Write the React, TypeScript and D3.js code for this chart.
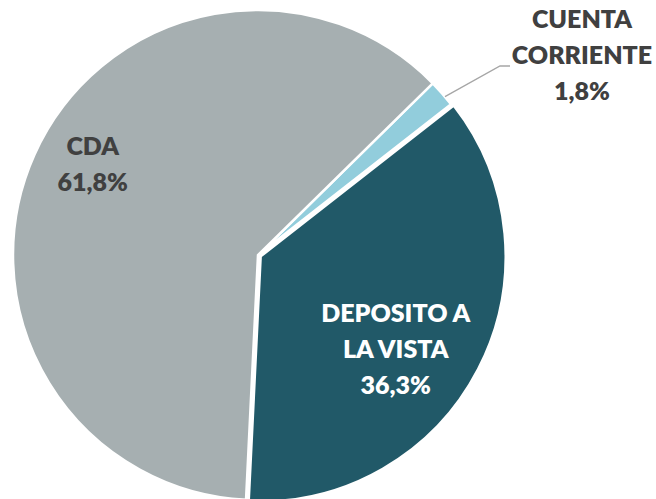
import { useEffect, useRef } from 'react';
import * as d3 from 'd3';

const categories = ['CUENTA CORRIENTE', 'DEPOSITO A LA VISTA', 'CDA'];
const values = [1.8, 36.3, 61.8];
const labelLines = [['CUENTA', 'CORRIENTE', '1,8%'], ['DEPOSITO A', 'LA VISTA', '36,3%'], ['CDA', '61,8%']];
const colors = ['#92CDDC', '#215968', '#A6AFB1'];

export default function App() {
  const svgRef = useRef<SVGSVGElement>(null);
  const width = 656;
  const height = 499;

  useEffect(() => {
    if (!svgRef.current) return;
    const svg = d3.select(svgRef.current);
    svg.selectAll('*').remove();

    const cx = 258, cy = 255, r = 245;
    const start = (45.5 * Math.PI) / 180;
    const data = categories.map((c, i) => ({ name: c, value: values[i], lines: labelLines[i], color: colors[i] }));

    const pie = d3.pie<any>().sort(null).value((d) => d.value).startAngle(start).endAngle(start + 2 * Math.PI);
    const arcs = pie(data);
    const arc = d3.arc<any>().innerRadius(0).outerRadius(r);

    const g = svg.append('g').attr('transform', `translate(${cx},${cy})`);
    const explode = [0, 3, 0];

    g.selectAll('path')
      .data(arcs)
      .join('path')
      .attr('d', arc)
      .attr('fill', (d) => d.data.color)
      .attr('stroke', '#fff')
      .attr('stroke-width', 2.5)
      .attr('stroke-linejoin', 'miter')
      .attr('transform', (d, i) => {
        const a = (d.startAngle + d.endAngle) / 2;
        return `translate(${Math.sin(a) * explode[i]},${-Math.cos(a) * explode[i]})`;
      });

    const font = 'Lato, "Open Sans", sans-serif';
    const fontSize = 25;
    const lineH = 36;
    const capH = 18;

    const polar = (a: number, rr: number) => [Math.sin(a) * rr, -Math.cos(a) * rr];
    const deg = Math.PI / 180;

    const drawLabel = (lines: string[], x: number, y: number, fill: string) => {
      const t = g.append('text')
        .attr('text-anchor', 'middle')
        .attr('font-family', font)
        .attr('font-weight', 800)
        .attr('font-size', fontSize)
        .attr('fill', fill);
      const y0 = y - ((lines.length - 1) * lineH) / 2 + capH / 2;
      lines.forEach((l, i) => {
        t.append('tspan').attr('x', x).attr('y', y0 + i * lineH).text(l);
      });
    };

    // CDA label inside the slice
    const cda = arcs[2];
    const pCda = polar((cda.startAngle + cda.endAngle) / 2 + 4.7 * deg, r * 0.77);
    drawLabel(cda.data.lines, pCda[0], pCda[1], '#404040');

    // Deposito label inside the slice
    const dep = arcs[1];
    const pDep = polar((dep.startAngle + dep.endAngle) / 2 + 6.85 * deg, r * 0.68);
    drawLabel(dep.data.lines, pDep[0], pDep[1], '#ffffff');

    // Cuenta corriente: outside label with leader line
    const cc = arcs[0];
    const p0 = polar((cc.startAngle + cc.endAngle) / 2 + 1 * deg, r);
    const elbow = [242, -189];
    const end = [252, -189];
    g.append('polyline')
      .attr('points', [p0, elbow, end].map((p) => p.join(',')).join(' '))
      .attr('fill', 'none')
      .attr('stroke', '#A6A6A6')
      .attr('stroke-width', 1.3);
    drawLabel(cc.data.lines, 324, -200, '#404040');
  }, []);

  return (
    <div style={{ position: 'absolute', left: 0, top: 0 }}>
      <svg ref={svgRef} width={width} height={height} style={{ display: 'block', background: '#fff' }} />
    </div>
  );
}
